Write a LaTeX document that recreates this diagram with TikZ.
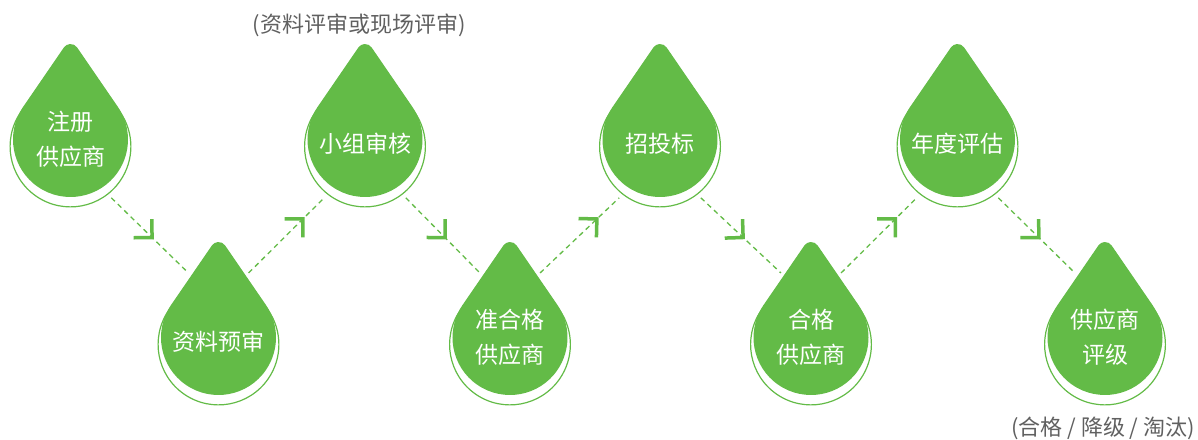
\documentclass[tikz,border=0pt]{standalone}
\usepackage{fontspec}
\setmainfont{Noto Sans CJK SC}
\usetikzlibrary{decorations.markings,positioning}
\definecolor{leaf}{RGB}{99,187,71}
\definecolor{ash}{RGB}{96,96,96}

\tikzset{
  drop/.pic={
    % thin rim, a bit larger and lower than the drop
    \draw[leaf,line width=1.2pt] (49.81,27.17) -- (6.93,89.65)
      arc[start angle=34.45,end angle=145.55,radius=8.4pt] -- (-49.81,27.17)
      arc[start angle=145.55,end angle=394.45,radius=60.4pt] -- cycle;
    \fill[leaf] (47.42,32.53) -- (6.6,92.03)
      arc[start angle=34.45,end angle=145.55,radius=8pt] -- (-47.42,32.53)
      arc[start angle=145.55,end angle=394.45,radius=57.5pt] -- cycle;
  }
}

\begin{document}
\begin{tikzpicture}
[x=1pt,y=1pt
,tag/.style={circle,minimum size=142pt,inner sep=0pt,text=white,align=center,font=\fontsize{23}{35}\selectfont
  ,execute at begin node={\rule{0pt}{28pt}}}
,note/.style={text=ash,inner sep=0pt,font=\fontsize{22}{26}\selectfont}
,flow/.style={leaf,line width=1.3pt,dash pattern=on 5pt off 4pt,postaction={decorate}
  ,decoration={markings,mark=at position #1 with {\draw[solid,line width=3.5pt] (-13pt,13pt) -- (0pt,0pt) -- (-13pt,-13pt);}}}
]
\useasboundingbox (0,0) rectangle (1198,439);
% drops
\pic at (70.5,299.5) {drop};
\pic at (218.5,101.5) {drop};
\pic at (365,299.5) {drop};
\pic at (510,101.5) {drop};
\pic at (660,299.5) {drop};
\pic at (811,101.5) {drop};
\pic at (957.5,299.5) {drop};
\pic at (1105,101.5) {drop};
% labels
\node[tag] (reg) at (70.5,299.5) {注册\\供应商};
\node[tag] (docs) at (218.5,101.5) {资料预审};
\node[tag] (team) at (365,299.5) {小组审核};
\node[tag] (prequal) at (510,101.5) {准合格\\供应商};
\node[tag] (bid) at (660,299.5) {招投标};
\node[tag] (qual) at (811,101.5) {合格\\供应商};
\node[tag] (yearly) at (957.5,299.5) {年度评估};
\node[tag] (rating) at (1105,101.5) {供应商\\评级};
\node[note] (teamnote) at (359,414) {(资料评审或现场评审)};
\node[note] (ratingnote) at (1103,11) {(合格 / 降级 / 淘汰)};
% connectors
\draw[flow=0.53] (reg.-55) -- (docs.115);
\draw[flow=0.72] (docs.65) -- (team.-125);
\draw[flow=0.53] (team.-55) -- (prequal.115);
\draw[flow=0.72] (prequal.65) -- (bid.-125);
\draw[flow=0.53] (bid.-55) -- (qual.115);
\draw[flow=0.72] (qual.65) -- (yearly.-125);
\draw[flow=0.53] (yearly.-55) -- (rating.115);
\end{tikzpicture}
\end{document}
